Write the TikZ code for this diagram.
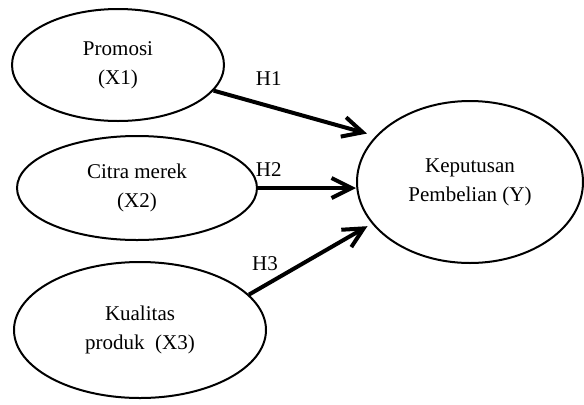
\documentclass[tikz,border=0pt]{standalone}
\usepackage{fontspec}
\setmainfont{Liberation Serif}
\usetikzlibrary{shapes.geometric,arrows.meta}

\begin{document}
\begin{tikzpicture}[x=0.5pt, y=0.5pt,
    var/.style={draw, ellipse, line width=1pt, inner sep=0pt, align=center,
      font=\fontsize{10.5}{14.5}\selectfont},
    hyp/.style={line width=2pt, -{Straight Barb[length=10pt, width=10pt]}},
    hlabel/.style={inner sep=0pt, font=\fontsize{10.5}{12}\selectfont}]
    \useasboundingbox (0,0) rectangle (584,404);
    \node[var, minimum width=106pt, minimum height=56pt] (X1) at (118,339)
    {Promosi\\(X1)}; \node[var, minimum width=120pt, minimum height=52pt] (X2) at (137,216)
    {Citra merek\\(X2)}; \node[var, minimum width=126pt, minimum height=68pt] (X3) at (140,74)
    {Kualitas\\produk\ \ (X3)}; \node[var, minimum width=113pt, minimum height=81pt] (Y) at (470,222)
    {Keputusan\\Pembelian (Y)};
    \draw[hyp, shorten >=4.5pt] (X1.-15) -- (Y.154) node[hlabel, pos=0.34, above=9.5pt]
    {H1}; \draw[hyp] (X2.east) -- (X2.east -| Y.west) node[hlabel, pos=0.11, above=5pt]
    {H2}; \draw[hyp, shorten >=2.5pt] (X3.18) -- (Y.203) node[hlabel, pos=0.13, above=6.5pt]
    {H3};
  \end{tikzpicture}
\end{document}
